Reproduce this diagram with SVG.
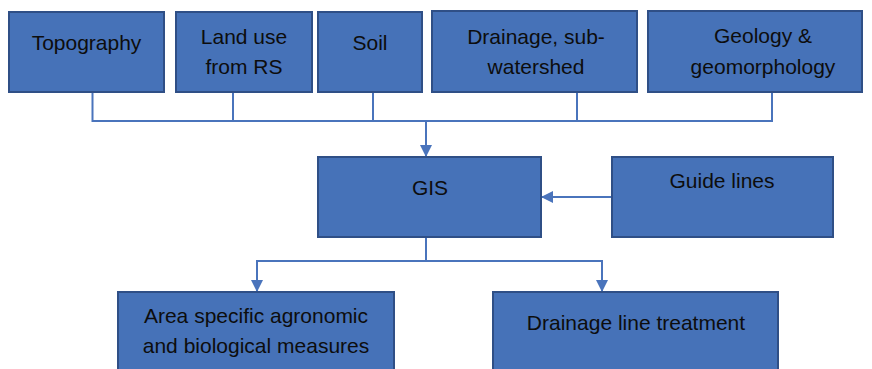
<svg xmlns="http://www.w3.org/2000/svg" width="872" height="369" viewBox="0 0 872 369">
  <style>
    .box { fill: #4672B8; stroke: #2F4F86; stroke-width: 2; }
    .lbl { font-family: "Liberation Sans", Arial, sans-serif; font-size: 21px; fill: #0D0D0D; text-anchor: middle; }
    .wire { fill: none; stroke: #4A74BC; stroke-width: 2; }
  </style>
  <defs>
    <marker id="arrow" markerWidth="12" markerHeight="12" refX="11" refY="6" orient="auto" markerUnits="userSpaceOnUse">
      <path d="M0,0 L12,6 L0,12 Z" fill="#4A74BC"/>
    </marker>
  </defs>

  <rect width="872" height="369" fill="#FFFFFF"/>

  <!-- connectors -->
  <g id="connectors">
    <path class="wire" d="M92.5,92 V121 H772 V92"/>
    <path class="wire" d="M233,92 V121"/>
    <path class="wire" d="M373,92 V121"/>
    <path class="wire" d="M577,92 V121"/>
    <path class="wire" d="M426,121 V156" marker-end="url(#arrow)"/>
    <path class="wire" d="M612,197 H542" marker-end="url(#arrow)"/>
    <path class="wire" d="M426,238 V261"/>
    <path class="wire" d="M426,261 H257 V291" marker-end="url(#arrow)"/>
    <path class="wire" d="M426,261 H602 V291" marker-end="url(#arrow)"/>
  </g>

  <!-- input layers -->
  <g id="topography">
    <rect class="box" x="9" y="12" width="155" height="80"/>
    <text class="lbl" x="86.5" y="50">Topography</text>
  </g>
  <g id="land-use">
    <rect class="box" x="176" y="12" width="136" height="80"/>
    <text class="lbl" x="244" y="44">Land use</text>
    <text class="lbl" x="244" y="74">from RS</text>
  </g>
  <g id="soil">
    <rect class="box" x="318" y="12" width="104" height="80"/>
    <text class="lbl" x="370" y="50">Soil</text>
  </g>
  <g id="drainage">
    <rect class="box" x="432" y="11" width="205" height="81"/>
    <text class="lbl" x="536" y="44">Drainage, sub-</text>
    <text class="lbl" x="536" y="74">watershed</text>
  </g>
  <g id="geology">
    <rect class="box" x="648" y="11" width="214" height="81"/>
    <text class="lbl" x="763" y="43">Geology &amp;</text>
    <text class="lbl" x="763" y="74">geomorphology</text>
  </g>

  <!-- processing -->
  <g id="gis">
    <rect class="box" x="318" y="157" width="223" height="80"/>
    <text class="lbl" x="430" y="195">GIS</text>
  </g>
  <g id="guide-lines">
    <rect class="box" x="612" y="157" width="221" height="80"/>
    <text class="lbl" x="722" y="188">Guide lines</text>
  </g>

  <!-- outputs -->
  <g id="agronomic">
    <rect class="box" x="118" y="292" width="276" height="90"/>
    <text class="lbl" x="256" y="323">Area specific agronomic</text>
    <text class="lbl" x="256" y="353">and biological measures</text>
  </g>
  <g id="drainage-treatment">
    <rect class="box" x="493" y="292" width="285" height="90"/>
    <text class="lbl" x="636" y="330">Drainage line treatment</text>
  </g>
</svg>
